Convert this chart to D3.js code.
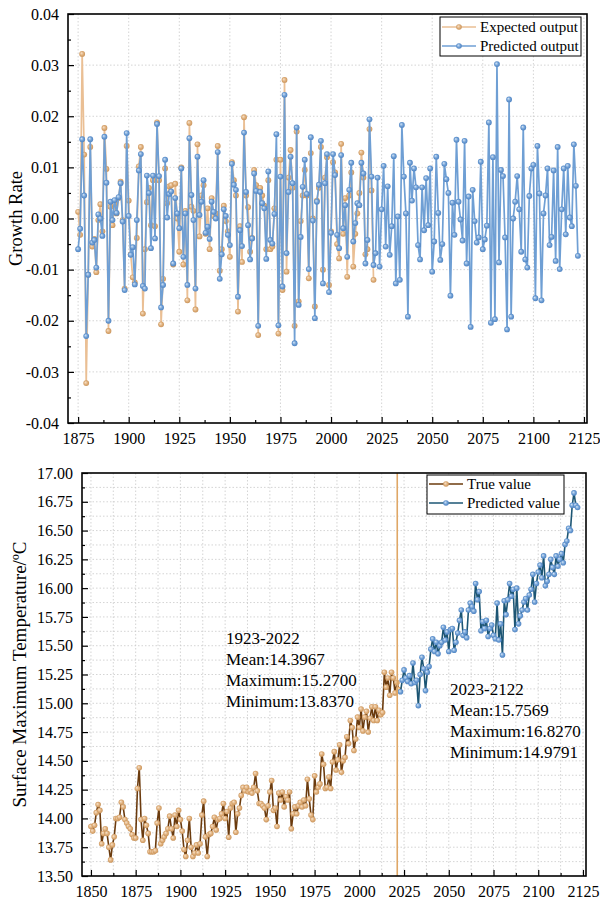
<!DOCTYPE html>
<html><head><meta charset="utf-8">
<script src="https://cdn.jsdelivr.net/npm/d3@7"></script>
<style>
body{margin:0;background:#fff}
text{font-family:"Liberation Serif","Times New Roman",serif;fill:#000}
</style>
</head><body>
<svg id="c" width="600" height="905"></svg>
<script>
// ---------------- DATA ----------------
const growthStartYear = 1875;
const predictedGrowth = [
 -0.0060,-0.0020,0.0155,0.0045,-0.0230,-0.0110,0.0155,-0.0047,-0.0042,-0.0096,
 0.0008,0.0000,-0.0034,0.0160,0.0070,-0.0200,0.0033,-0.0003,0.0036,0.0011,
 0.0042,0.0069,-0.0006,-0.0140,0.0167,0.0005,-0.0071,-0.0056,-0.0129,-0.0003,
 0.0094,0.0126,-0.0132,-0.0137,0.0084,0.0050,-0.0058,0.0084,-0.0039,0.0185,
 0.0083,-0.0174,-0.0130,0.0115,0.0002,0.0048,0.0053,-0.0088,0.0040,0.0010,
 -0.0019,0.0098,-0.0075,0.0010,-0.0130,0.0157,0.0046,-0.0003,-0.0137,0.0121,
 0.0007,0.0033,0.0075,-0.0028,-0.0016,-0.0040,0.0033,0.0013,0.0000,0.0130,
 -0.0118,-0.0070,0.0018,0.0005,-0.0032,-0.0052,0.0107,0.0066,0.0056,-0.0153,
 -0.0023,-0.0054,0.0168,0.0052,-0.0013,-0.0080,-0.0039,0.0088,0.0054,-0.0210,
 0.0052,0.0030,0.0020,-0.0079,0.0092,-0.0042,-0.0049,0.0009,0.0165,-0.0209,
 0.0082,-0.0133,0.0242,-0.0068,0.0052,0.0121,0.0069,-0.0244,0.0178,-0.0169,
 -0.0036,0.0062,0.0115,0.0048,-0.0099,0.0159,-0.0004,-0.0195,0.0033,0.0066,
 0.0152,-0.0127,0.0069,0.0126,-0.0144,-0.0028,0.0126,0.0085,-0.0032,-0.0058,
 0.0124,-0.0019,0.0026,-0.0075,0.0056,0.0109,-0.0045,-0.0009,0.0030,0.0026,
 0.0109,0.0088,-0.0088,-0.0042,0.0194,0.0082,-0.0091,-0.0068,0.0080,-0.0094,
 0.0018,0.0103,-0.0055,0.0063,-0.0071,-0.0015,0.0122,-0.0127,0.0004,-0.0120,
 0.0183,0.0082,0.0010,-0.0192,0.0109,0.0035,0.0098,0.0061,-0.0052,-0.0080,
 0.0061,-0.0023,0.0079,-0.0013,0.0098,-0.0104,-0.0045,0.0121,0.0011,-0.0081,
 -0.0050,0.0107,0.0077,0.0050,-0.0151,0.0031,-0.0032,0.0154,0.0033,-0.0002,
 -0.0043,0.0152,-0.0088,0.0043,-0.0212,0.0056,-0.0005,-0.0047,-0.0037,0.0111,
 -0.0060,-0.0041,-0.0014,0.0188,-0.0204,0.0120,-0.0197,0.0302,-0.0086,0.0095,
 0.0083,-0.0037,-0.0217,0.0233,-0.0192,0.0000,0.0033,0.0083,0.0018,-0.0065,
 0.0178,-0.0080,-0.0096,0.0044,0.0098,0.0105,-0.0156,0.0142,0.0049,-0.0160,
 0.0010,0.0045,0.0098,-0.0052,-0.0036,0.0094,-0.0083,0.0140,-0.0099,0.0018,
 0.0098,-0.0031,0.0103,0.0002,-0.0015,0.0145,0.0064,-0.0073
];
const expectedGrowth = [
 0.0013,-0.0032,0.0322,0.0125,-0.0322,-0.0110,0.0140,-0.0055,-0.0040,-0.0105,
 -0.0003,0.0028,-0.0025,0.0177,0.0097,-0.0220,0.0023,-0.0013,0.0028,0.0010,
 0.0040,0.0072,-0.0003,-0.0137,0.0142,0.0035,-0.0070,-0.0115,-0.0125,-0.0038,
 0.0102,0.0140,-0.0186,-0.0060,0.0032,0.0060,-0.0013,0.0075,-0.0015,0.0188,
 0.0075,-0.0207,-0.0118,0.0098,0.0030,0.0063,0.0065,-0.0090,0.0068,0.0000,
 -0.0065,0.0100,-0.0090,0.0015,-0.0160,0.0187,0.0023,0.0015,-0.0178,0.0145,
 -0.0035,0.0045,0.0065,-0.0030,0.0020,-0.0060,0.0040,0.0005,0.0010,0.0142,
 -0.0102,-0.0060,0.0025,-0.0005,-0.0025,-0.0075,0.0110,0.0075,0.0045,-0.0182,
 -0.0015,-0.0085,0.0198,0.0045,0.0022,-0.0065,-0.0038,0.0095,0.0065,-0.0228,
 0.0060,0.0045,0.0025,-0.0060,0.0075,-0.0060,-0.0055,0.0020,0.0115,-0.0225,
 0.0115,-0.0140,0.0271,-0.0104,0.0080,0.0134,0.0060,-0.0210,0.0170,-0.0162,
 -0.0005,0.0045,0.0095,0.0045,-0.0117,0.0128,0.0000,-0.0172,0.0035,0.0060,
 0.0140,-0.0100,0.0080,0.0120,-0.0130,-0.0025,0.0110,0.0090,-0.0050,-0.0078,
 0.0146,-0.0030,0.0040,-0.0114,0.0045,0.0090,-0.0094,-0.0030,0.0010,0.0050,
 0.0129,0.0080,-0.0070,-0.0060,0.0175,0.0055,-0.0120
];
const trueStartYear = 1850;
const trueTemp = [
 13.93,13.89,13.94,14.05,14.12,14.07,13.78,13.87,13.91,13.87,
 13.75,13.64,13.77,13.84,14.00,14.00,14.01,14.14,14.10,13.99,
 13.96,13.93,13.91,13.86,13.83,13.83,14.26,14.44,13.99,13.81,
 14.00,13.94,13.87,13.71,13.71,13.71,13.72,13.96,14.09,13.78,
 13.81,13.84,13.87,13.91,14.02,13.91,13.83,14.03,13.93,14.07,
 13.99,13.89,13.73,13.67,13.81,14.00,13.75,13.67,13.70,13.77,
 13.70,13.78,14.03,14.15,13.84,13.67,13.86,13.87,13.93,14.01,
 13.90,13.99,14.00,14.04,14.13,14.00,14.06,13.837,14.09,14.13,
 14.14,13.88,14.04,14.09,14.20,14.27,14.24,14.27,14.23,14.24,
 14.22,14.27,14.39,14.24,14.13,14.13,14.11,14.09,13.99,14.11,
 14.23,14.33,14.07,14.09,13.93,14.22,14.16,14.23,14.10,14.19,
 14.16,14.23,13.91,14.04,14.10,14.04,14.11,14.14,14.10,14.16,
 14.11,14.34,14.17,14.03,13.99,14.37,14.23,14.27,14.30,14.56,
 14.47,14.26,14.27,14.36,14.26,14.49,14.58,14.42,14.51,14.64,
 14.40,14.50,14.53,14.71,14.65,14.85,14.79,14.59,14.69,14.88,
 14.79,14.95,14.76,14.88,14.93,14.75,14.87,14.97,14.85,14.97,
 14.85,14.94,14.90,14.92,15.27,15.14,15.22,15.07,15.27,15.22,
 15.09,15.18,15.12
];
const predStartYear = 2023;
const predTemp = [
 15.10,15.20,15.29,15.22,15.19,15.24,15.17,15.35,15.18,15.20,
 14.979,15.25,15.40,15.30,15.11,15.27,15.32,15.47,15.56,15.45,
 15.53,15.43,15.50,15.53,15.66,15.55,15.62,15.45,15.64,15.65,
 15.46,15.53,15.61,15.72,15.81,15.59,15.62,15.57,15.81,15.87,
 15.84,15.80,16.04,15.90,15.97,15.63,15.71,15.65,15.72,15.58,
 15.65,15.68,15.59,15.56,15.87,15.55,15.69,15.42,15.89,15.77,
 15.90,16.04,15.93,15.99,15.64,16.00,15.69,15.76,15.81,15.88,
 15.91,15.81,15.94,15.99,16.12,15.88,16.04,16.14,16.20,16.09,
 16.28,16.02,16.06,16.12,16.25,16.18,16.12,16.28,16.19,16.25,
 16.30,16.22,16.38,16.41,16.52,16.50,16.72,16.827,16.72,16.70
];
const topXTicks = [1875,1900,1925,1950,1975,2000,2025,2050,2075,2100,2125];
const topYTicks = [-0.04,-0.03,-0.02,-0.01,0,0.01,0.02,0.03,0.04];
const botXTicks = [1850,1875,1900,1925,1950,1975,2000,2025,2050,2075,2100,2125];
const botYTicks = [13.5,13.75,14,14.25,14.5,14.75,15,15.25,15.5,15.75,16,16.25,16.5,16.75,17];
const splitYear = 2021.2;
const topLegend = ["Expected output","Predicted output"];
const botLegend = ["True value","Predicted value"];
const statsHist = ["1923-2022","Mean:14.3967","Maximum:15.2700","Minimum:13.8370"];
const statsPred = ["2023-2122","Mean:15.7569","Maximum:16.8270","Minimum:14.9791"];

// ---------------- DRAW ----------------
const svg = d3.select("#c");
const defs = svg.append("defs");
function ballGrad(id, hi, mid, edge){
  const g = defs.append("radialGradient").attr("id",id).attr("cx","50%").attr("cy","50%").attr("r","55%").attr("fx","35%").attr("fy","35%");
  g.append("stop").attr("offset","0%").attr("stop-color",hi);
  g.append("stop").attr("offset","55%").attr("stop-color",mid);
  g.append("stop").attr("offset","100%").attr("stop-color",edge);
}
ballGrad("gBlue","#d6e6f7","#6f9fd5","#4a7fbf");
ballGrad("gTan","#f7e3cc","#e0b07c","#c58f55");

const C = {
  orangeLine:"#eabf94", blueLine:"#6f9fd4",
  brownLine:"#6b3b0e", tealLine:"#1d5674",
  split:"#dfa766"
};
const fmt2 = d => (d<0?"-":"") + Math.abs(d).toFixed(2);
const SERIF = '"Liberation Serif","Times New Roman",serif';

function series(start, arr){ return arr.map((v,i)=>({year:start+i, v})); }

function axes(g, x, y, box, xt, xMinor, yt, yMinor, gridX, gridY){
  const [L,T,R,B] = box;
  g.append("g").selectAll("line").data(gridX).join("line")
    .attr("x1",d=>x(d)).attr("x2",d=>x(d)).attr("y1",T).attr("y2",B)
    .attr("stroke","#c9c9c9").attr("stroke-width",0.8).attr("stroke-dasharray","1.5,2");
  g.append("g").selectAll("line").data(gridY).join("line")
    .attr("y1",d=>y(d)).attr("y2",d=>y(d)).attr("x1",L).attr("x2",R)
    .attr("stroke","#c9c9c9").attr("stroke-width",0.8).attr("stroke-dasharray","1.5,2");
  const gx = g.append("g").attr("transform",`translate(0,${B})`);
  gx.call(d3.axisBottom(x).tickValues(xt).tickSize(-6).tickPadding(10).tickFormat(d3.format("d")));
  gx.append("g").call(d3.axisBottom(x).tickValues(xMinor).tickSize(-3).tickFormat(""));
  gx.attr("font-family",SERIF).attr("font-size",16);
  gx.selectAll(".domain").remove();
  gx.selectAll("text").attr("font-size",16).attr("font-family",SERIF).attr("fill","#000");
  gx.selectAll("line").attr("stroke","#000").attr("stroke-width",1.2);
  const gy = g.append("g").attr("transform",`translate(${L},0)`);
  gy.call(d3.axisLeft(y).tickValues(yt).tickSize(-6).tickPadding(9).tickFormat(fmt2));
  gy.append("g").call(d3.axisLeft(y).tickValues(yMinor).tickSize(-3).tickFormat(""));
  gy.attr("font-family",SERIF).attr("font-size",16);
  gy.selectAll(".domain").remove();
  gy.selectAll("text").attr("font-size",16).attr("font-family",SERIF).attr("fill","#000");
  gy.selectAll("line").attr("stroke","#000").attr("stroke-width",1.2);
}

function drawSeries(g, x, y, data, lineColor, grad, r, lw){
  const line = d3.line().x(d=>x(d.year)).y(d=>y(d.v));
  g.append("path").datum(data).attr("d",line).attr("fill","none")
    .attr("stroke",lineColor).attr("stroke-width",lw).attr("stroke-linejoin","round");
  g.append("g").selectAll("circle").data(data).join("circle")
    .attr("cx",d=>x(d.year)).attr("cy",d=>y(d.v)).attr("r",r)
    .attr("fill",`url(#${grad})`);
}

function legend(g, x0, y0, w, h, items, rowY){
  g.append("rect").attr("x",x0).attr("y",y0).attr("width",w).attr("height",h)
    .attr("fill","#fff").attr("stroke","#000").attr("stroke-width",1);
  items.forEach((it,i)=>{
    const yy = rowY[i];
    g.append("line").attr("x1",x0+2).attr("x2",x0+36).attr("y1",yy).attr("y2",yy)
      .attr("stroke",it.color).attr("stroke-width",1.6);
    g.append("circle").attr("cx",x0+19).attr("cy",yy).attr("r",2.8).attr("fill",`url(#${it.grad})`);
    g.append("text").attr("x",x0+40).attr("y",yy+5).attr("font-size",15).text(it.label);
  });
}

// ===== Top panel =====
{
  const box = [68,14,587,423];
  const x = d3.scaleLinear().domain([1870,2126.5]).range([box[0],box[2]]);
  const y = d3.scaleLinear().domain([-0.04,0.04]).range([box[3],box[1]]);
  const g = svg.append("g");
  const xMinor = topXTicks.slice(0,-1).map(d=>d+12.5);
  const yMinor = topYTicks.slice(0,-1).map(d=>d+0.005);
  axes(g,x,y,box,topXTicks,xMinor,topYTicks,yMinor,topXTicks,topYTicks.slice(1,-1));
  drawSeries(g,x,y,series(growthStartYear,expectedGrowth),C.orangeLine,"gTan",2.9,1.7);
  drawSeries(g,x,y,series(growthStartYear,predictedGrowth),C.blueLine,"gBlue",2.9,1.7);
  g.append("rect").attr("x",box[0]).attr("y",box[1]).attr("width",box[2]-box[0]).attr("height",box[3]-box[1])
    .attr("fill","none").attr("stroke","#000").attr("stroke-width",1.6);
  legend(g,440,17,141,39,[
    {label:topLegend[0],color:C.orangeLine,grad:"gTan"},
    {label:topLegend[1],color:C.blueLine,grad:"gBlue"}],[27,46]);
  g.append("text").attr("transform",`translate(22,${(box[1]+box[3])/2}) rotate(-90)`)
    .attr("text-anchor","middle").attr("font-size",18.5).text("Growth Rate");
}

// ===== Bottom panel =====
{
  const box = [82,473,586,876];
  const x = d3.scaleLinear().domain([1845,2126.7]).range([box[0],box[2]]);
  const y = d3.scaleLinear().domain([13.5,17]).range([box[3],box[1]]);
  const g = svg.append("g");
  const xMinor = botXTicks.slice(0,-1).map(d=>d+12.5);
  const yMinor = botYTicks.slice(0,-1).map(d=>d+0.125);
  const gridX = botXTicks.concat(xMinor).filter(d=>d>1846);
  const gridY = botYTicks.concat(yMinor).filter(d=>d>13.5 && d<17);
  axes(g,x,y,box,botXTicks,xMinor,botYTicks,yMinor,gridX,gridY);
  drawSeries(g,x,y,series(trueStartYear,trueTemp),C.brownLine,"gTan",2.8,1.6);
  drawSeries(g,x,y,series(predStartYear,predTemp),C.tealLine,"gBlue",2.8,1.6);
  g.append("line").attr("x1",x(splitYear)).attr("x2",x(splitYear)).attr("y1",box[1]).attr("y2",box[3])
    .attr("stroke",C.split).attr("stroke-width",1.6);
  g.append("rect").attr("x",box[0]).attr("y",box[1]).attr("width",box[2]-box[0]).attr("height",box[3]-box[1])
    .attr("fill","none").attr("stroke","#000").attr("stroke-width",1.6);
  legend(g,427,475,137,39,[
    {label:botLegend[0],color:C.brownLine,grad:"gTan"},
    {label:botLegend[1],color:C.tealLine,grad:"gBlue"}],[484,503]);
  const t1 = g.append("text").attr("font-size",17);
  statsHist.forEach((s,i)=>t1.append("tspan").attr("x",226).attr("y",644+i*21).text(s));
  const t2 = g.append("text").attr("font-size",17);
  statsPred.forEach((s,i)=>t2.append("tspan").attr("x",450).attr("y",695+i*21).text(s));
  g.append("text").attr("transform",`translate(26,${(box[1]+box[3])/2}) rotate(-90)`)
    .attr("text-anchor","middle").attr("font-size",19).text("Surface Maximum Temperature/\u00BAC");
}
</script>
</body></html>
